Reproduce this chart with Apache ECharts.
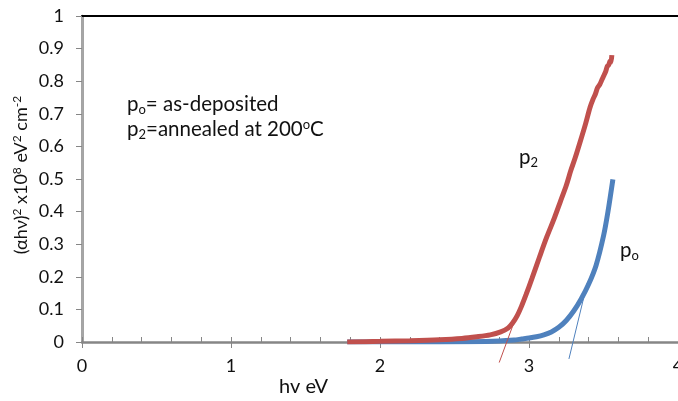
<!DOCTYPE html>
<html>
<head>
<meta charset="utf-8">
<script src="https://cdn.jsdelivr.net/npm/echarts@6/dist/echarts.min.js"></script>
<style>
  html, body { margin: 0; padding: 0; background: #fff; }
  #chart { width: 678px; height: 401px; }
</style>
</head>
<body>
<div id="chart"></div>
<script>
// measured curves, [hv (eV), (ahv)^2 x1e8]
const p2Data = [
  [1.78, 0], [2.0, 0.002], [2.2, 0.004], [2.4, 0.007], [2.55, 0.011], [2.65, 0.016],
  [2.74, 0.022], [2.81, 0.031], [2.86, 0.043], [2.89, 0.058], [2.92, 0.08], [2.95, 0.11],
  [2.98, 0.145], [3.02, 0.195], [3.07, 0.26], [3.12, 0.323], [3.17, 0.38], [3.21, 0.43],
  [3.25, 0.48], [3.28, 0.525], [3.31, 0.565], [3.344, 0.615], [3.38, 0.67], [3.41, 0.72],
  [3.43, 0.745], [3.445, 0.76], [3.46, 0.78], [3.475, 0.79], [3.49, 0.805], [3.50, 0.815],
  [3.515, 0.83], [3.525, 0.845], [3.535, 0.85], [3.545, 0.862], [3.55, 0.858], [3.556, 0.88]
];
const poData = [
  [1.78, 0], [2.2, 0], [2.6, 0.001], [2.8, 0.003], [2.9, 0.006], [2.95, 0.009],
  [3.0, 0.012], [3.05, 0.016], [3.1, 0.022], [3.15, 0.031], [3.2, 0.045], [3.25, 0.066],
  [3.3, 0.095], [3.35, 0.132], [3.4, 0.177], [3.45, 0.235], [3.5, 0.325], [3.53, 0.40],
  [3.563, 0.499]
];
// extrapolated tangent lines
const p2Fit = [[2.80, -0.063], [2.895, 0.055]];
const poFit = [[3.268, -0.052], [3.391, 0.181]];

const xMin = 0, xMax = 4, xMajor = 1, xMinor = 0.2;
const yMin = 0, yMax = 1, yTick = 0.1;

const font = 'Lato, "Open Sans", sans-serif';
const red = '#C0504D', blue = '#4F81BD', axisGray = '#868686';

var myChart = echarts.init(document.getElementById('chart'));

// normal text + subscript / superscript pieces
const n = { fontFamily: font, fontSize: 20.5, fill: '#111', lineHeight: 25 };
const sub = { fontFamily: font, fontSize: 13, fill: '#111', padding: [10, 0, 0, 0], lineHeight: 25 };
const sup = { fontFamily: font, fontSize: 13, fill: '#111', padding: [0, 0, 10, 0], lineHeight: 25 };
const nY = { fontFamily: font, fontSize: 18, fill: '#111', lineHeight: 22 };
const supY = { fontFamily: font, fontSize: 12, fill: '#111', padding: [0, 0, 8, 0], lineHeight: 22 };

const hidden = { axisTick: { show: false }, axisLabel: { show: false }, splitLine: { show: false } };

var option = {
  animation: false,
  grid: { left: 82, right: 0, top: 16, bottom: 59, outerBoundsMode: 'none' },
  xAxis: [
    {
      type: 'value', min: xMin, max: xMax, interval: xMajor,
      axisLine: { lineStyle: { color: axisGray, width: 2.5 } },
      axisTick: { show: true, length: 6, lineStyle: { color: axisGray } },
      splitLine: { show: false },
      axisLabel: { color: '#111', fontFamily: font, fontSize: 18, margin: 15 }
    },
    {
      // minor ticks, pointing inward
      type: 'value', position: 'bottom', min: xMin, max: xMax, interval: xMinor,
      axisLine: { show: false },
      axisTick: { show: true, inside: true, length: 5, lineStyle: { color: axisGray } },
      axisLabel: { show: false }, splitLine: { show: false }
    },
    Object.assign({
      type: 'value', position: 'top', min: xMin, max: xMax,
      axisLine: { show: true, lineStyle: { color: '#000', width: 2 } }
    }, hidden)
  ],
  yAxis: [
    {
      type: 'value', min: yMin, max: yMax, interval: yTick,
      axisLine: { show: true, lineStyle: { color: axisGray, width: 2.5 } },
      axisTick: { show: true, length: 6, lineStyle: { color: axisGray } },
      splitLine: { show: false },
      axisLabel: {
        color: '#111', fontFamily: font, fontSize: 18, margin: 18,
        formatter: v => String(Math.round(v * 10) / 10)
      }
    },
    Object.assign({
      type: 'value', position: 'right', min: yMin, max: yMax,
      axisLine: { show: true, lineStyle: { color: '#a6a6a6', width: 1 } }
    }, hidden)
  ],
  graphic: [
    {
      type: 'text', left: 279, top: 377,
      style: { text: 'hv eV', font: '20px ' + font, fill: '#111' }
    },
    {
      type: 'text', x: 21, y: 175, rotation: Math.PI / 2,
      style: {
        text: '{n|(αhν)}{p|2}{n| x10}{p|8}{n| eV}{p|2}{n| cm}{p|-2}',
        align: 'center', verticalAlign: 'middle',
        rich: { n: nY, p: supY }
      }
    },
    {
      type: 'text', left: 127, top: 92,
      style: {
        text: '{n|p}{s|o}{n|= as-deposited}\n{n|p}{s|2}{n|=annealed at 200}{u|o}{n|C}',
        lineHeight: 25,
        rich: { n: n, s: sub, u: sup }
      }
    },
    {
      type: 'text', left: 519, top: 146,
      style: { text: '{n|p}{s|2}', rich: { n: n, s: sub } }
    },
    {
      type: 'text', left: 620, top: 239,
      style: { text: '{n|p}{s|o}', rich: { n: n, s: sub } }
    }
  ],
  series: [
    {
      name: 'po', type: 'line', data: poData, showSymbol: false, smooth: 0.3,
      lineStyle: { color: blue, width: 5 }, z: 2
    },
    {
      name: 'p2', type: 'line', data: p2Data, showSymbol: false, smooth: 0.3,
      lineStyle: { color: red, width: 5 }, z: 3
    },
    {
      name: 'p2 fit', type: 'line', data: p2Fit, showSymbol: false, clip: false,
      lineStyle: { color: red, width: 1 }, z: 4
    },
    {
      name: 'po fit', type: 'line', data: poFit, showSymbol: false, clip: false,
      lineStyle: { color: blue, width: 1 }, z: 4
    }
  ]
};

option && myChart.setOption(option);
</script>
</body>
</html>
